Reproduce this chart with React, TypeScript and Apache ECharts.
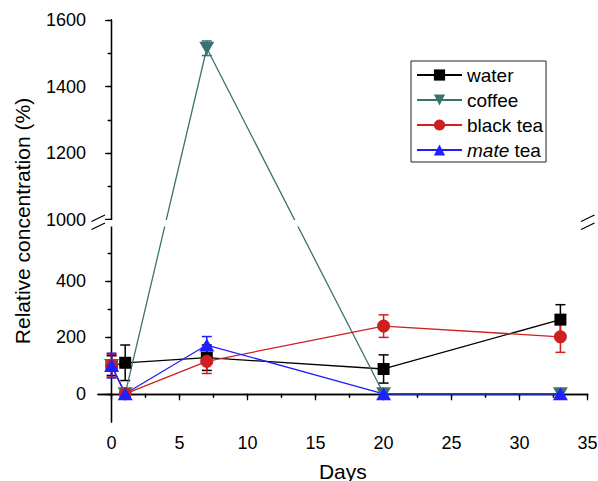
import React, { useEffect, useRef } from 'react';
import * as echarts from 'echarts';

// ---------- data ----------
const days = [0, 1, 7, 20, 33];
const water = [100, 110, 128, 88, 263];
const waterErr = [35, 63, 45, 50, 53];
const coffee = [100, 0, 1515, 0, 0];
const coffeeErr = [0, 0, 22, 0, 0];
const blackTea = [100, 0, 115, 240, 202];
const blackTeaErr = [40, 0, 43, 40, 55];
const mateTea = [100, 0, 173, 0, 0];
const mateTeaErr = [44, 0, 30, 0, 0];

const xTicks = [0, 5, 10, 15, 20, 25, 30, 35];
const xMinorTicks = [2.5, 7.5, 12.5, 17.5, 22.5, 27.5, 32.5];
const yTicks = [0, 200, 400, 1000, 1200, 1400, 1600];
const yMinorTicks = [100, 300, 500, 1100, 1300, 1500];

// ---------- broken axis mapping ----------
const Y_MIN = -100;
const BREAK_FROM = 1000; // first value of the upper segment
const BREAK_V = 618; // position of BREAK_FROM on the continuous (virtual) axis
const UPPER_RATIO = 1.179; // upper segment is drawn at a larger scale
const Y_TOP = 1600;
const toV = (y: number) => (y < BREAK_FROM ? y : BREAK_V + (y - BREAK_FROM) * UPPER_RATIO);
const fromV = (v: number) => (v < BREAK_V - 1 ? v : BREAK_FROM + (v - BREAK_V) / UPPER_RATIO);
const V_MAX = toV(Y_TOP);

const FONT = '"Liberation Sans", Arial, Helvetica, sans-serif';
const BLACK = '#000000';
const TEAL = '#3b7270';
const RED = '#d01f1f';
const BLUE = '#1f1fff';

const DOWN_TRI = 'path://M0,0L20,0L10,17.3Z';

function errorSeries(vals: number[], errs: number[], color: string) {
  const data = days
    .map((d, i) => (errs[i] > 0 ? [d, toV(vals[i] - errs[i]), toV(vals[i] + errs[i])] : null))
    .filter((p) => p !== null);
  return {
    type: 'custom',
    data,
    silent: true,
    renderItem: (_params: any, api: any) => {
      const x = api.value(0);
      const top = api.coord([x, api.value(2)]);
      const bot = api.coord([x, api.value(1)]);
      const w = 5;
      const style = { stroke: color, lineWidth: 1.5, fill: 'none' };
      return {
        type: 'group',
        children: [
          { type: 'line', shape: { x1: top[0], y1: top[1], x2: bot[0], y2: bot[1] }, style },
          { type: 'line', shape: { x1: top[0] - w, y1: top[1], x2: top[0] + w, y2: top[1] }, style },
          { type: 'line', shape: { x1: bot[0] - w, y1: bot[1], x2: bot[0] + w, y2: bot[1] }, style },
        ],
      };
    },
  };
}

function lineSeries(name: string, vals: number[], color: string, symbol: string, symbolSize: any) {
  return {
    type: 'line',
    name,
    data: days.map((d, i) => [d, toV(vals[i])]),
    symbol,
    symbolSize,
    showSymbol: true,
    itemStyle: { color },
    lineStyle: { color, width: 1.3 },
  };
}

export default function App() {
  const ref = useRef<HTMLDivElement>(null);
  useEffect(() => {
    if (!ref.current) return;
    const chart = echarts.init(ref.current, null, { renderer: 'svg' });
    const lineStyle = { color: '#000', width: 1.3 };
    const axisFont = { fontSize: 18, fontFamily: FONT, color: '#000' };
    const nameFont = { fontSize: 21, fontFamily: FONT, color: '#000' };
    const base = { type: 'value', splitLine: { show: false } };
    chart.setOption({
      animation: false,
      backgroundColor: '#fff',
      grid: { left: 98, top: 20, right: 10.4, bottom: 59, outerBoundsMode: 'none', containLabel: false },
      legend: {
        data: ['water', 'coffee', 'black tea', 'mate tea'],
        orient: 'vertical',
        left: 411,
        top: 61,
        itemWidth: 45,
        itemHeight: 14,
        itemGap: 5,
        padding: [4, 3, 2, 5],
        borderColor: '#222',
        borderWidth: 1,
        textStyle: {
          fontSize: 19,
          fontFamily: FONT,
          color: '#000',
          lineHeight: 20,
          rich: { i: { fontStyle: 'italic', fontSize: 19, fontFamily: FONT, color: '#000', lineHeight: 20 } },
        },
        formatter: (n: string) => (n === 'mate tea' ? '{i|mate} tea' : n),
      },
      xAxis: [
        {
          ...base,
          min: -1,
          max: 35,
          position: 'bottom',
          axisLine: { show: true, lineStyle },
          axisTick: { show: true, customValues: xTicks, length: 6.5, lineStyle },
          axisLabel: { customValues: xTicks, margin: 12, ...axisFont },
          name: 'Days',
          nameLocation: 'middle',
          nameGap: 39,
          nameTextStyle: nameFont,
        },
        {
          ...base,
          min: -1,
          max: 35,
          position: 'bottom',
          axisLine: { show: false },
          axisTick: { show: true, customValues: xMinorTicks, length: 4, lineStyle },
          axisLabel: { show: false },
        },
        {
          ...base,
          min: -1,
          max: 35,
          position: 'top',
          axisLine: { show: true, lineStyle },
          axisTick: { show: true, inside: true, customValues: [...xTicks, ...xMinorTicks], length: 3.5, lineStyle },
          axisLabel: { show: false },
        },
      ],
      yAxis: [
        {
          ...base,
          min: Y_MIN,
          max: V_MAX,
          position: 'left',
          axisLine: { show: true, lineStyle },
          axisTick: { show: true, customValues: yTicks.map(toV), length: 6.5, lineStyle },
          axisLabel: {
            customValues: yTicks.map(toV),
            formatter: (v: number) => String(Math.round(fromV(v))),
            margin: 12,
            ...axisFont,
          },
          name: 'Relative concentration (%)',
          nameLocation: 'middle',
          nameGap: 65,
          nameTextStyle: nameFont,
        },
        {
          ...base,
          min: Y_MIN,
          max: V_MAX,
          position: 'left',
          axisLine: { show: false },
          axisTick: { show: true, customValues: yMinorTicks.map(toV), length: 3.5, lineStyle },
          axisLabel: { show: false },
        },
        {
          ...base,
          min: Y_MIN,
          max: V_MAX,
          position: 'right',
          axisLine: { show: true, lineStyle },
          axisTick: {
            show: true,
            inside: true,
            customValues: [...yTicks, ...yMinorTicks].map(toV),
            length: 4,
            lineStyle,
          },
          axisLabel: { show: false },
        },
      ],
      series: [
        errorSeries(water, waterErr, BLACK),
        lineSeries('water', water, BLACK, 'rect', 12),
        errorSeries(coffee, coffeeErr, TEAL),
        lineSeries('coffee', coffee, TEAL, DOWN_TRI, [15, 13]),
        errorSeries(blackTea, blackTeaErr, RED),
        lineSeries('black tea', blackTea, RED, 'circle', 13),
        errorSeries(mateTea, mateTeaErr, BLUE),
        lineSeries('mate tea', mateTea, BLUE, 'triangle', [15, 13]),
      ],
      graphic: [
        { type: 'rect', z: 100, shape: { x: 88, y: 220, width: 510, height: 6.5 }, style: { fill: '#fff' } },
        { type: 'line', z: 101, shape: { x1: 91.5, y1: 221.5, x2: 105, y2: 215 }, style: { stroke: '#000', lineWidth: 1.3 } },
        { type: 'line', z: 101, shape: { x1: 91.5, y1: 229.5, x2: 105, y2: 223 }, style: { stroke: '#000', lineWidth: 1.3 } },
        { type: 'line', z: 101, shape: { x1: 581, y1: 221.5, x2: 594.5, y2: 215 }, style: { stroke: '#000', lineWidth: 1.3 } },
        { type: 'line', z: 101, shape: { x1: 581, y1: 229.5, x2: 594.5, y2: 223 }, style: { stroke: '#000', lineWidth: 1.3 } },
      ],
    });
    return () => chart.dispose();
  }, []);
  return <div ref={ref} style={{ position: 'absolute', left: 0, top: 0, width: 598, height: 481 }} />;
}
